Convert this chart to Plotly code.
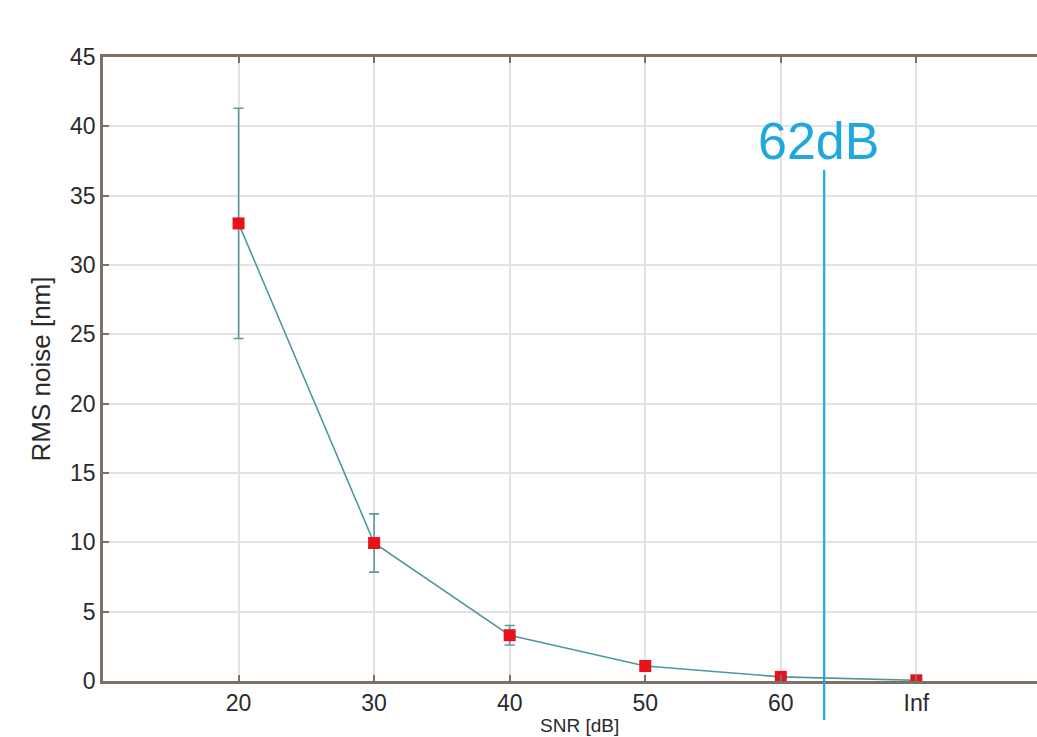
import plotly.graph_objects as go

# Data
snr_labels = ["20", "30", "40", "50", "60", "Inf"]
snr_pos = [20, 30, 40, 50, 60, 70]
rms_noise = [33.0, 9.95, 3.3, 1.08, 0.3, 0.05]
rms_err = [8.3, 2.1, 0.7, 0.3, 0.1, 0.0]
y_ticks = [0, 5, 10, 15, 20, 25, 30, 35, 40, 45]

threshold_label = "62dB"
threshold_pos = 63.2
threshold_top = 36.85

x_title = "SNR [dB]"
y_title = "RMS noise [nm]"

x_range = [10, 78.9]
y_range = [0, 45]

font_family = "Liberation Sans, Arial, sans-serif"
axis_color = "#7d7066"
grid_color = "#e3e3e3"
blue = "#1fa8e0"
text_color = "#2a2a2a"

fig = go.Figure()
fig.add_trace(go.Scatter(
    x=snr_pos, y=rms_noise,
    mode="lines+markers",
    line=dict(color="#4f979f", width=1.6),
    marker=dict(symbol="square", size=12, color="#e8121c"),
    error_y=dict(type="data", array=rms_err, visible=True,
                 color="#5e99a0", thickness=1.6, width=5),
    showlegend=False,
))

plot_h_frac_top = (threshold_top - y_range[0]) / (y_range[1] - y_range[0])
fig.add_shape(type="line", xref="x", yref="paper",
              x0=threshold_pos, x1=threshold_pos,
              y0=-0.0625, y1=plot_h_frac_top,
              line=dict(color=blue, width=2.2))
fig.add_annotation(xref="x", yref="paper", x=threshold_pos, y=plot_h_frac_top + 0.047,
                   text=threshold_label, showarrow=False, xshift=-6,
                   font=dict(family=font_family, size=52, color=blue),
                   xanchor="center", yanchor="middle")

# x-axis title, kept at the very bottom of the page
fig.add_annotation(xref="paper", yref="paper", x=0.51, y=-0.0895,
                   text=x_title, showarrow=False, borderpad=0,
                   font=dict(family=font_family, size=19, color=text_color),
                   xanchor="center", yanchor="bottom")

fig.update_layout(
    width=1037, height=737,
    margin=dict(l=103, r=0, t=57, b=56, pad=0),
    paper_bgcolor="white", plot_bgcolor="white",
    font=dict(family=font_family, size=23, color=text_color),
)
fig.update_xaxes(
    range=x_range, tickvals=snr_pos, ticktext=snr_labels,
    showgrid=True, gridcolor=grid_color, gridwidth=1.5,
    showline=True, linecolor=axis_color, linewidth=2.5, mirror="ticks",
    ticks="inside", ticklen=6, tickcolor=axis_color, tickwidth=1.5,
    zeroline=False,
    tickfont=dict(size=23, color=text_color),
    automargin=False,
)
fig.update_yaxes(
    range=y_range, tickvals=y_ticks,
    showgrid=True, gridcolor=grid_color, gridwidth=1.5,
    showline=True, linecolor=axis_color, linewidth=2.5, mirror=False,
    ticks="inside", ticklen=6, tickcolor=axis_color, tickwidth=1.5,
    zeroline=False,
    tickfont=dict(size=23, color=text_color),
    title=dict(text=y_title, font=dict(size=26, color=text_color), standoff=12),
    automargin=False,
)

fig.write_html("out.html")
